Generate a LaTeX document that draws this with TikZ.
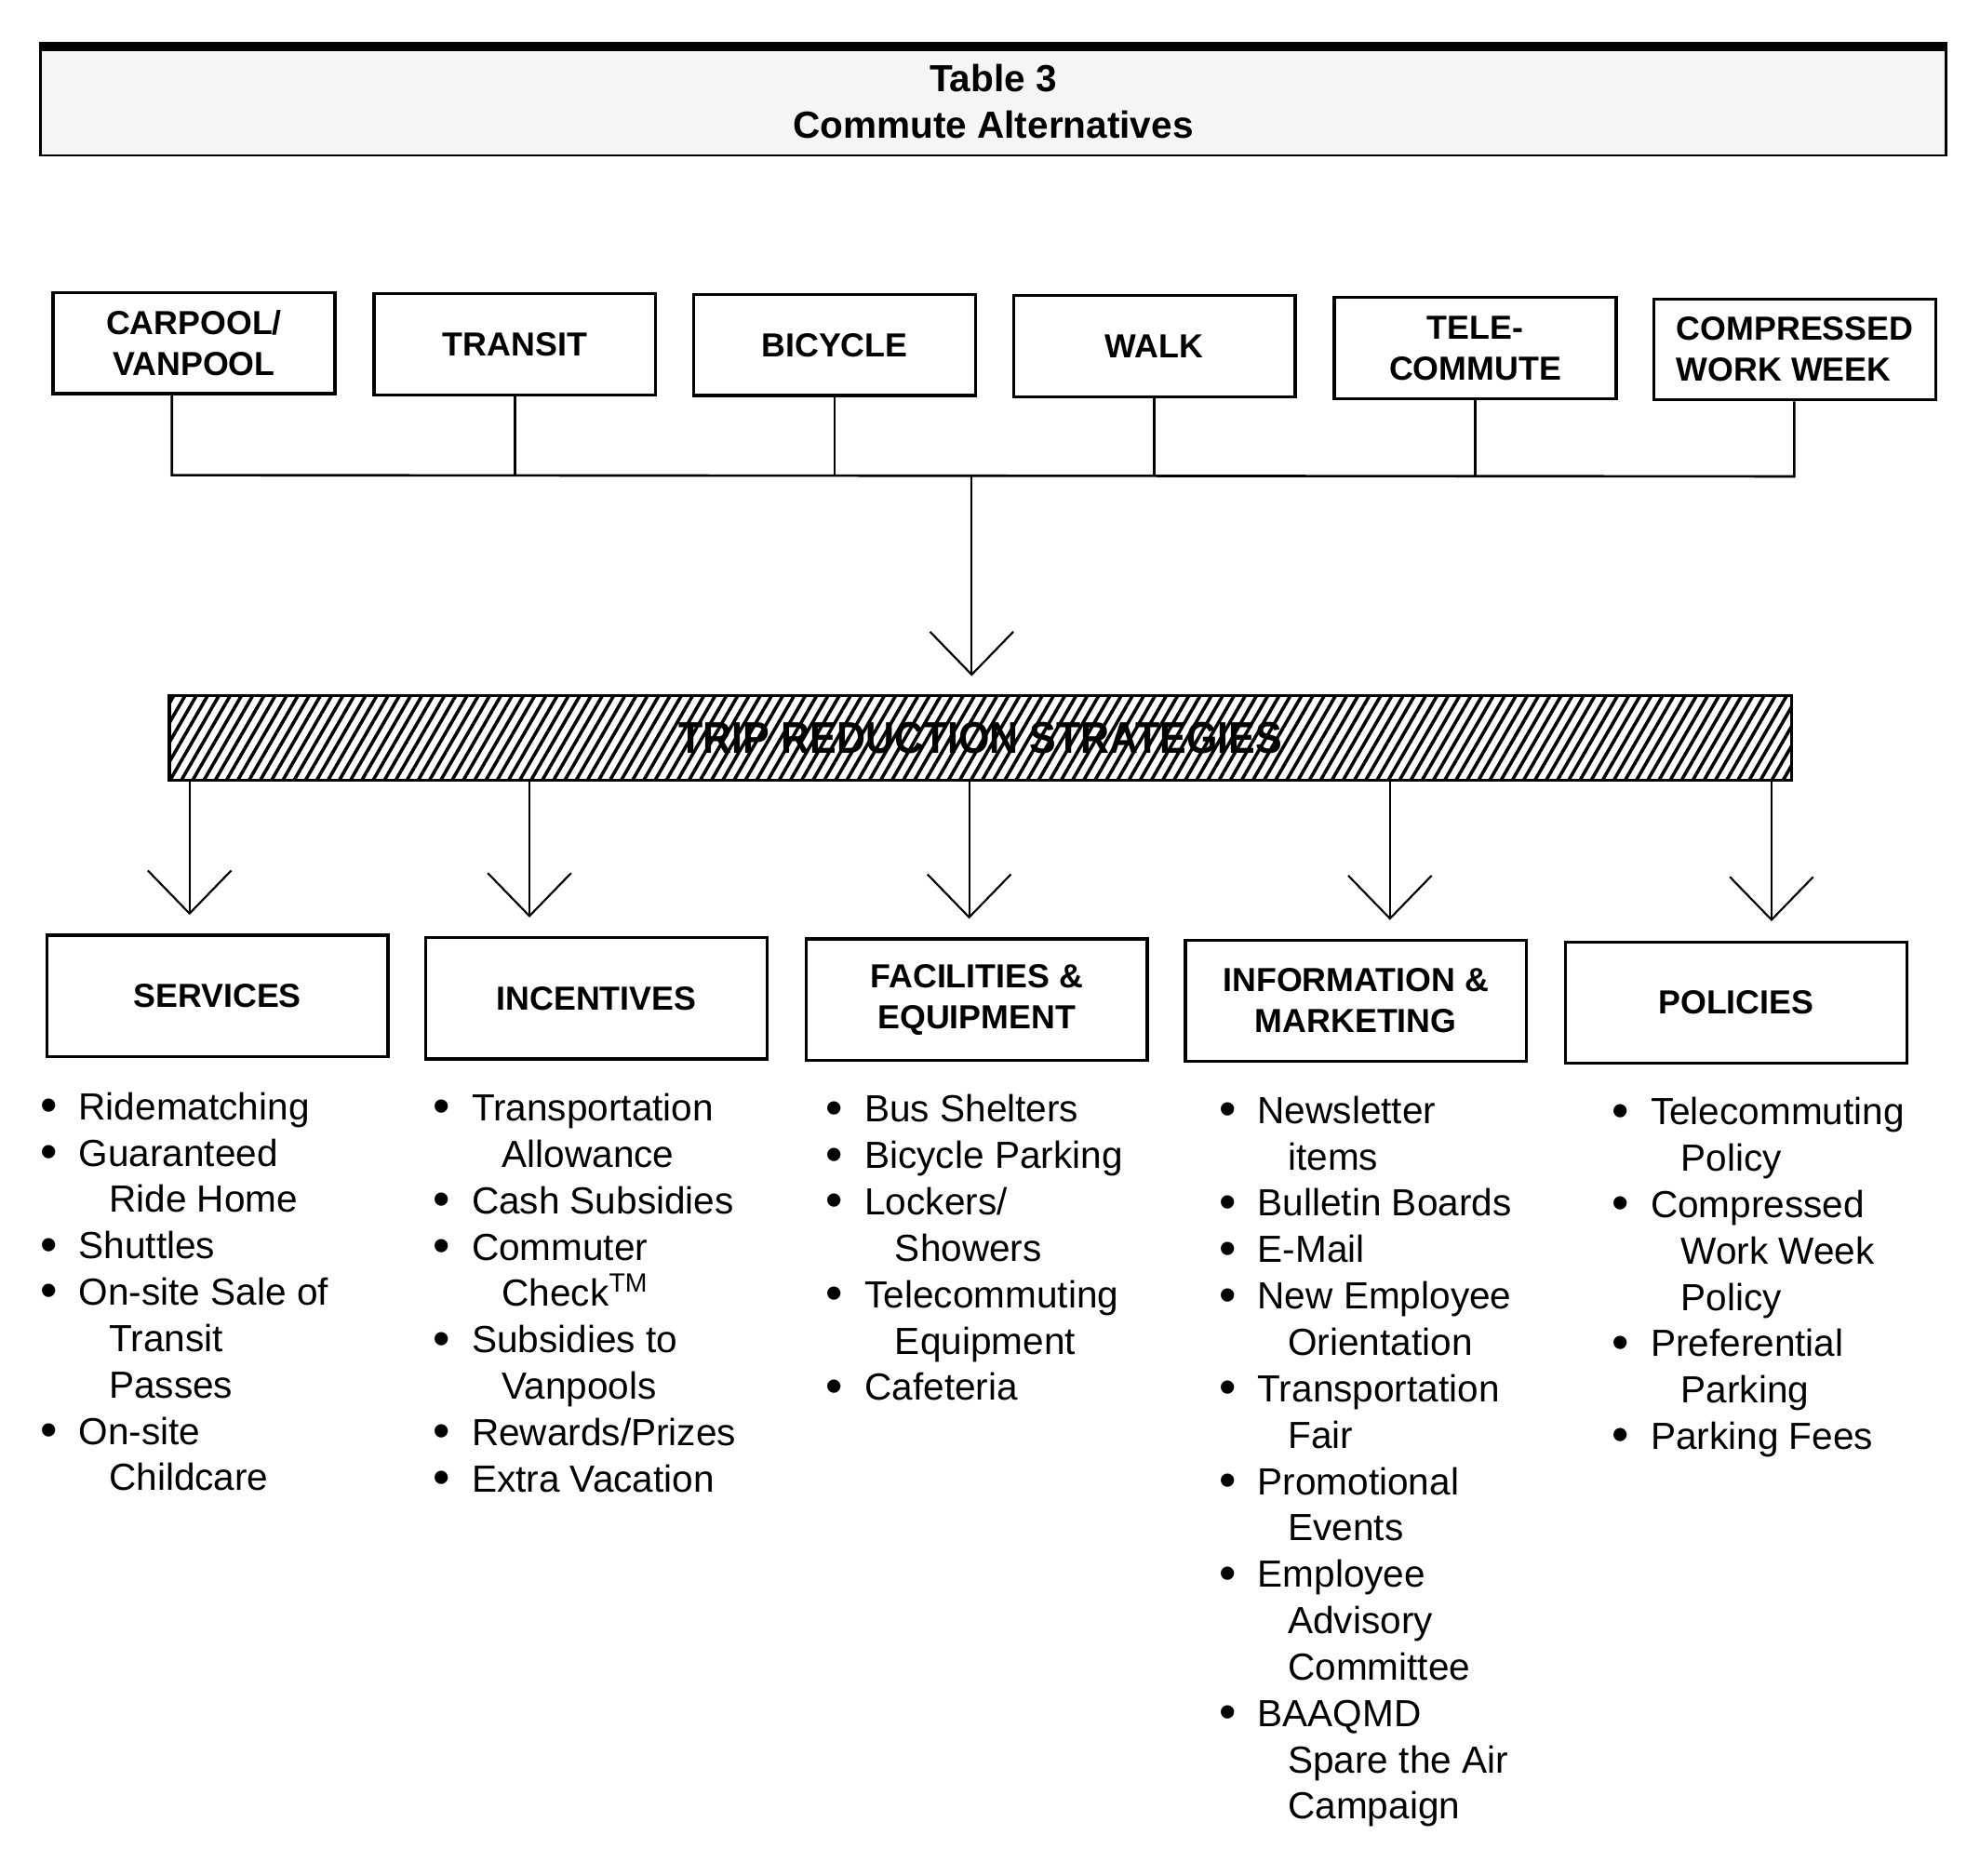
\documentclass[tikz,border=0pt]{standalone}
\usepackage{fontspec}
\setmainfont{Liberation Sans}
\usetikzlibrary{arrows.meta,patterns.meta}
\newcommand{\itembul}{\makebox[0.61cm][l]{\raisebox{-1pt}{\fontsize{22}{0}\selectfont\textbullet}}}
\newcommand{\itemcont}{\hspace*{1.09cm}}
\tikzset{
	altbox/.style={draw,line width=1.4pt,minimum width=4.46cm,minimum height=1.6cm,inner sep=0pt,align=center,font=\fontsize{15}{18.5}\selectfont\bfseries},
	catbox/.style={altbox,minimum width=5.4cm,minimum height=1.92cm},
	item/.style={anchor=base west,inner sep=0pt,font=\fontsize{17}{20.9}\selectfont},
	link/.style={line width=1.1pt},
	arr/.style={-{Straight Barb[length=0.68cm,width=1.32cm]},line width=0.9pt},
}
\begin{document}
\begin{tikzpicture}[x=0.02cm,y=-0.02cm]
			\useasboundingbox (0,0) rectangle (1567,1484.5);
			%\draw [help lines,step=100] (0,0) grid (1560,1478);
			\node [draw,line width=1.2pt,fill=black!4,minimum width=30.16cm,minimum height=1.7cm,align=center,font=\fontsize{17}{21}\selectfont\bfseries] (title) at (786,80.5) {Table 3\\Commute Alternatives};
			\draw [line width=4pt] (title.north west) to (title.north east);
			\node [altbox] (cp) at (153.5,271.5) {CARPOOL/\\VANPOOL};
			\node [altbox] (tr) at (407.5,272.5) {TRANSIT};
			\node [altbox] (bc) at (660.5,273) {BICYCLE};
			\node [altbox] (wk) at (913.5,274) {WALK};
			\node [altbox] (tc) at (1167.5,275.5) {TELE-\\COMMUTE};
			\node [altbox,align=left] (cw) at (1420.5,276.5) {COMPRESSED\\WORK WEEK};
			\coordinate (b1) at (136,376);
			\coordinate (b6) at (1420,377);
			\coordinate (tip) at (769,535);
			\draw [link] (cp.south -| b1) to (b1) to (b6) to (cw.south -| b6);
			\draw [link] (tr.south) to (tr.south |- b1);
			\draw [link] (bc.south) to (bc.south |- b1);
			\draw [link] (wk.south) to (wk.south |- b1);
			\draw [link] (tc.south) to (tc.south |- b1);
			\draw [arr] (tip |- b1) to (tip);
			\node [draw,line width=1.4pt,pattern={Lines[angle=60,distance=4.4pt,line width=1.5pt]},minimum width=25.68cm,minimum height=1.34cm,font=\fontsize{20}{24}\selectfont\bfseries] (trs) at (776,584) {\scalebox{0.9}[1]{TRIP REDUCTION STRATEGIES}};
			\coordinate (tS) at (150,724);
			\coordinate (tI) at (419,726);
			\coordinate (tF) at (767,727);
			\coordinate (tN) at (1100,728);
			\coordinate (tP) at (1402,729);
			\draw [arr] (tS |- trs.south) to (tS);
			\draw [arr] (tI |- trs.south) to (tI);
			\draw [arr] (tF |- trs.south) to (tF);
			\draw [arr] (tN |- trs.south) to (tN);
			\draw [arr] (tP |- trs.south) to (tP);
			\node [catbox] (srv) at (172,788) {SERVICES};
			\node [catbox] (inc) at (472,790) {INCENTIVES};
			\node [catbox] (fac) at (773,791) {FACILITIES \&\\EQUIPMENT};
			\node [catbox] (inf) at (1073,792) {INFORMATION \&\\MARKETING};
			\node [catbox] (pol) at (1374,793.5) {POLICIES};
			% lists
			\foreach \txt [count=\i] in {{\itembul Ridematching},{\itembul Guaranteed},{\itemcont Ride Home},{\itembul Shuttles},{\itembul On-site Sale of},{\itemcont Transit},{\itemcont Passes},{\itembul On-site},{\itemcont Childcare}}
				\node [item] (srv\i) at (31.5,{886+36.7*(\i-1)}) {\txt};
			\foreach \txt [count=\i] in {{\itembul Transportation},{\itemcont Allowance},{\itembul Cash Subsidies},{\itembul Commuter},{\itemcont Check\textsuperscript{TM}},{\itembul Subsidies to},{\itemcont Vanpools},{\itembul Rewards/Prizes},{\itembul Extra Vacation}}
				\node [item] (inc\i) at (342.5,{887+36.7*(\i-1)}) {\txt};
			\foreach \txt [count=\i] in {{\itembul Bus Shelters},{\itembul Bicycle Parking},{\itembul Lockers/},{\itemcont Showers},{\itembul Telecommuting},{\itemcont Equipment},{\itembul Cafeteria}}
				\node [item] (fac\i) at (653.5,{888+36.7*(\i-1)}) {\txt};
			\foreach \txt [count=\i] in {{\itembul Newsletter},{\itemcont items},{\itembul Bulletin Boards},{\itembul E-Mail},{\itembul New Employee},{\itemcont Orientation},{\itembul Transportation},{\itemcont Fair},{\itembul Promotional},{\itemcont Events},{\itembul Employee},{\itemcont Advisory},{\itemcont Committee},{\itembul BAAQMD},{\itemcont Spare the Air},{\itemcont Campaign}}
				\node [item] (inf\i) at (964.5,{889+36.7*(\i-1)}) {\txt};
			\foreach \txt [count=\i] in {{\itembul Telecommuting},{\itemcont Policy},{\itembul Compressed},{\itemcont Work Week},{\itemcont Policy},{\itembul Preferential},{\itemcont Parking},{\itembul Parking Fees}}
				\node [item] (pol\i) at (1275.5,{890+36.7*(\i-1)}) {\txt};
\end{tikzpicture}
\end{document}
